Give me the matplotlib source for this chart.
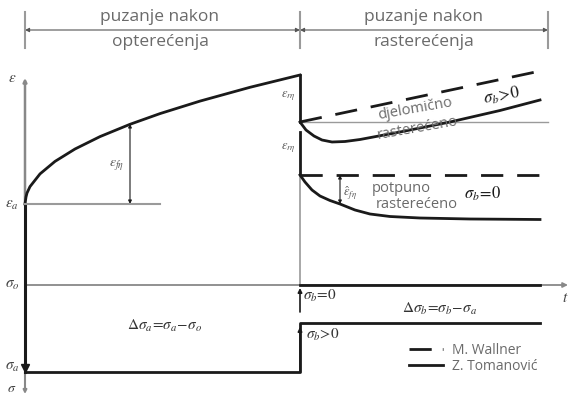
import matplotlib.pyplot as plt
from matplotlib.patches import FancyArrowPatch

plt.rcParams['mathtext.fontset'] = 'stix'

# schematic drawn in pixel space of the 570x398 picture
# loading creep curve (epsilon vs t)
load_x = [25, 26, 27, 30, 40, 55, 75, 100, 130, 160, 200, 250, 300]
load_y = [204, 197, 193, 186.6, 173.9, 161.4, 149.0, 136.6, 124.3, 113.6, 101.1, 87.3, 75]

# partial unloading (Tomanovic)
part_x = [300, 306, 314, 322, 332, 345, 360, 400, 450, 500, 540]
part_y = [122, 130, 136, 140, 142, 141.5, 139.5, 132, 122, 110.5, 100]
# partial unloading (Wallner)
wall_part_x = [300, 545]
wall_part_y = [122, 70]

# full unloading (Tomanovic)
full_x = [300, 305, 312, 320, 330, 340, 355, 370, 390, 420, 470, 540]
full_y = [175, 182, 190, 196, 200.5, 204, 210, 214, 216.5, 218, 219, 219.5]
# full unloading (Wallner)
wall_full_x = [300, 545]
wall_full_y = [175, 175]

# stress history
sig_o, sig_a, sig_b = 285, 372, 323

BLK = '#1a1a1a'
GRY = '#9a9a9a'
TXT = '#6a6a6a'

fig = plt.figure(figsize=(5.70, 3.98), dpi=100)
ax = fig.add_axes([0, 0, 1, 1])
ax.set_xlim(0, 570)
ax.set_ylim(398, 0)
ax.axis('off')


def arrow(x0, y0, x1, y1, style='-|>', lw=0.8, color=BLK, ms=6):
    ax.add_patch(FancyArrowPatch((x0, y0), (x1, y1), arrowstyle=style,
                                 mutation_scale=ms, lw=lw, color=color,
                                 shrinkA=0, shrinkB=0))


# header dimension lines
for xv in [25, 300, 548]:
    ax.plot([xv, xv], [12, 48], color=GRY, lw=1.5)
arrow(25, 30, 300, 30, style='<|-|>', lw=0.8, color='#555555', ms=6)
arrow(300, 30, 548, 30, style='<|-|>', lw=0.8, color='#555555', ms=6)
hfont = dict(family='Open Sans', fontsize=12.5, color=TXT, ha='center', va='center')
ax.text(160, 17, 'puzanje nakon', **hfont)
ax.text(160, 42, 'opterećenja', **hfont)
ax.text(424, 17, 'puzanje nakon', **hfont)
ax.text(424, 42, 'rasterećenja', **hfont)

# axes
arrow(25, 204, 25, 78, lw=1.8, color='#888888', ms=5)
ax.plot([25, 25], [204, sig_a], color=BLK, lw=2.2)
arrow(25, sig_a, 25, 394, lw=1.5, color='#888888', ms=5)
arrow(25, sig_o, 568, sig_o, lw=1.3, color='#888888', ms=7)
ax.plot(25, 368, marker='v', color=BLK, ms=6)

mfont = dict(fontsize=11, color='#444444', ha='center', va='center')
ax.text(12, 77, r'$\varepsilon$', **mfont)
ax.text(12, 205, r'$\varepsilon_a$', **mfont)
ax.text(12, 285, r'$\sigma_o$', **mfont)
ax.text(12, 367, r'$\sigma_a$', **mfont)
ax.text(12, 388, r'$\sigma$', fontsize=10, color='#444444', ha='center', va='center')
ax.text(565, 297, r'$t$', **mfont)

# loading branch
ax.plot(load_x, load_y, color=BLK, lw=2)
ax.plot([25, 160], [204, 204], color=GRY, lw=1.5)
arrow(130, 124, 130, 204, style='<|-|>', lw=0.8, ms=5)
ax.text(117, 166, r'$\varepsilon_{f\eta}$', fontsize=10, color='#555555', ha='center', va='center')

# elastic recovery at unloading
ax.plot([300, 300], [75, 122], color=BLK, lw=2)
ax.plot([300, 300], [132, 175], color=BLK, lw=2)
ax.plot([300, 300], [175, sig_o], color=GRY, lw=1.2)
ax.text(288, 96, r'$\varepsilon_{r\eta}$', fontsize=9, color='#555555', ha='center', va='center')
ax.text(288, 148, r'$\varepsilon_{r\eta}$', fontsize=9, color='#555555', ha='center', va='center')

# partial unloading
ax.plot([300, 548], [122, 122], color=GRY, lw=1)
ax.plot(wall_part_x, wall_part_y, color=BLK, lw=2, dashes=(8, 5))
ax.plot(part_x, part_y, color=BLK, lw=2)
ax.text(415, 109, 'djelomično', family='Open Sans', fontsize=10.5, color=TXT,
        ha='center', va='center', rotation=10)
ax.text(418, 128, 'rasterećeno', family='Open Sans', fontsize=10.5, color=TXT,
        ha='center', va='center', rotation=10)
ax.text(502, 96, r'$\sigma_b\!>\!0$', fontsize=12, color=BLK, ha='center', va='center', rotation=10)

# full unloading
ax.plot(wall_full_x, wall_full_y, color=BLK, lw=2, dashes=(8, 5))
ax.plot(full_x, full_y, color=BLK, lw=2)
arrow(340, 175, 340, 204, style='<|-|>', lw=0.8, ms=5)
ax.text(350, 193, r'$\hat{\varepsilon}_{f\eta}$', fontsize=9, color='#555555', ha='center', va='center')
ax.text(401, 188, 'potpuno', family='Open Sans', fontsize=10.5, color=TXT, ha='center', va='center')
ax.text(417, 204, 'rasterećeno', family='Open Sans', fontsize=10.5, color=TXT, ha='center', va='center')
ax.text(482, 194, r'$\sigma_b\!=\!0$', fontsize=12, color=BLK, ha='center', va='center')

# stress history
ax.plot([25, 300, 300, 540], [sig_a, sig_a, sig_b, sig_b], color=BLK, lw=2)
ax.plot([300, 540], [sig_o, sig_o], color=BLK, lw=2)
arrow(300, 312, 300, 288, lw=1.2, ms=6)
arrow(300, 372, 300, 327, lw=1.2, ms=6)
ax.text(165, 326, r'$\Delta\sigma_a\!=\!\sigma_a\!-\!\sigma_o$', fontsize=11, color='#333333', ha='center', va='center')
ax.text(440, 309, r'$\Delta\sigma_b\!=\!\sigma_b\!-\!\sigma_a$', fontsize=11, color='#333333', ha='center', va='center')
ax.text(320, 296, r'$\sigma_b\!=\!0$', fontsize=11, color='#333333', ha='center', va='center')
ax.text(323, 335, r'$\sigma_b\!>\!0$', fontsize=11, color='#333333', ha='center', va='center')

# legend
ax.plot([409, 443], [349, 349], color=BLK, lw=2, dashes=(8, 4))
ax.plot([409, 443], [365, 365], color=BLK, lw=2)
ax.text(452, 350, 'M. Wallner', family='Open Sans', fontsize=10, color=TXT, ha='left', va='center')
ax.text(452, 366, 'Z. Tomanović', family='Open Sans', fontsize=10, color=TXT, ha='left', va='center')

fig.savefig('out.png', dpi=100)
